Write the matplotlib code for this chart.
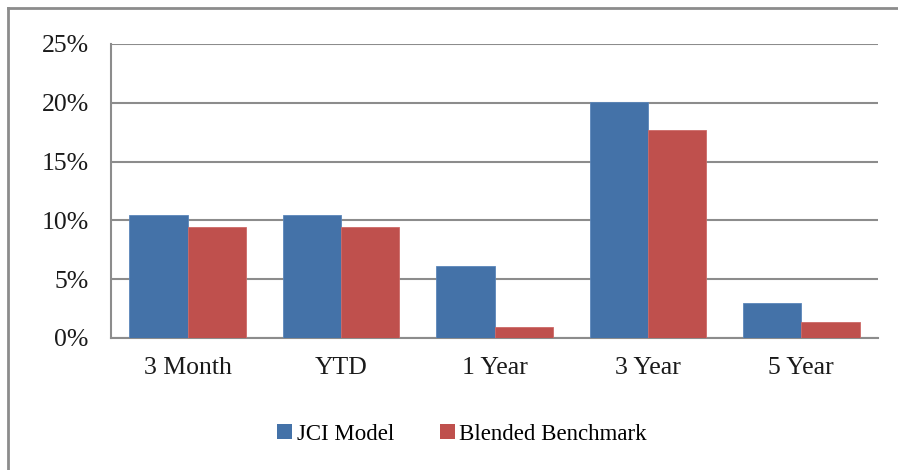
import numpy as np
import matplotlib
matplotlib.use("Agg")
import matplotlib.pyplot as plt
from matplotlib.lines import Line2D
from matplotlib.patches import Patch

# data (percent)
categories = ["3 Month", "YTD", "1 Year", "3 Year", "5 Year"]
jci_model = [10.5, 10.5, 6.1, 20.1, 2.95]
blended = [9.4, 9.4, 0.9, 17.65, 1.4]
series_names = ["JCI Model", "Blended Benchmark"]
y_ticks = [0, 5, 10, 15, 20, 25]

blue = "#4472A8"
red = "#BF504D"
grid_c = "#8C8C8C"

plt.rcParams['font.family'] = ['Liberation Serif', 'DejaVu Serif']

W, H = 898, 470
fig = plt.figure(figsize=(W / 100, H / 100), dpi=100)
ax = fig.add_axes([111 / W, (H - 338) / H, (878 - 111) / W, (338 - 44) / H])

x = np.arange(len(categories))
bw = 0.38
ax.bar(x - bw / 2, jci_model, bw, color=blue, edgecolor="#5B86BA", linewidth=0.6, zorder=3)
ax.bar(x + bw / 2, blended, bw, color=red, edgecolor="#CD6A67", linewidth=0.6, zorder=3)

ax.set_xlim(-0.5, len(categories) - 0.5)
ax.set_ylim(0, 25)
ax.set_yticks(y_ticks)
ax.set_yticklabels([f"{v}%" for v in y_ticks])
ax.set_xticks(x)
ax.set_xticklabels(categories)
ax.tick_params(axis="both", length=0, labelsize=18.5, colors="#1a1a1a")
ax.tick_params(axis="y", pad=16)
ax.tick_params(axis="x", pad=14)

ax.yaxis.grid(True, color=grid_c, linewidth=1.5, zorder=0)
ax.set_axisbelow(True)
for s in ["top", "right"]:
    ax.spines[s].set_visible(False)
for s in ["left", "bottom"]:
    ax.spines[s].set_color(grid_c)
    ax.spines[s].set_linewidth(1.5)

# outer chart frame (only top and left visible in the crop)
fig.add_artist(Line2D([7.5 / W, 7.5 / W], [0, 1 - 8 / H], transform=fig.transFigure,
                      color="#8C8C8C", linewidth=2))
fig.add_artist(Line2D([7.5 / W, 1], [1 - 8 / H, 1 - 8 / H], transform=fig.transFigure,
                      color="#8C8C8C", linewidth=2))

handles = [Patch(facecolor=blue), Patch(facecolor=red)]
fig.legend(handles, series_names, loc="center", bbox_to_anchor=(462 / W, 1 - 434 / H),
           ncol=2, frameon=False, fontsize=16.5, handlelength=0.65, handleheight=0.65,
           handletextpad=0.2, columnspacing=2.0)

fig.savefig("out.png", dpi=100)
